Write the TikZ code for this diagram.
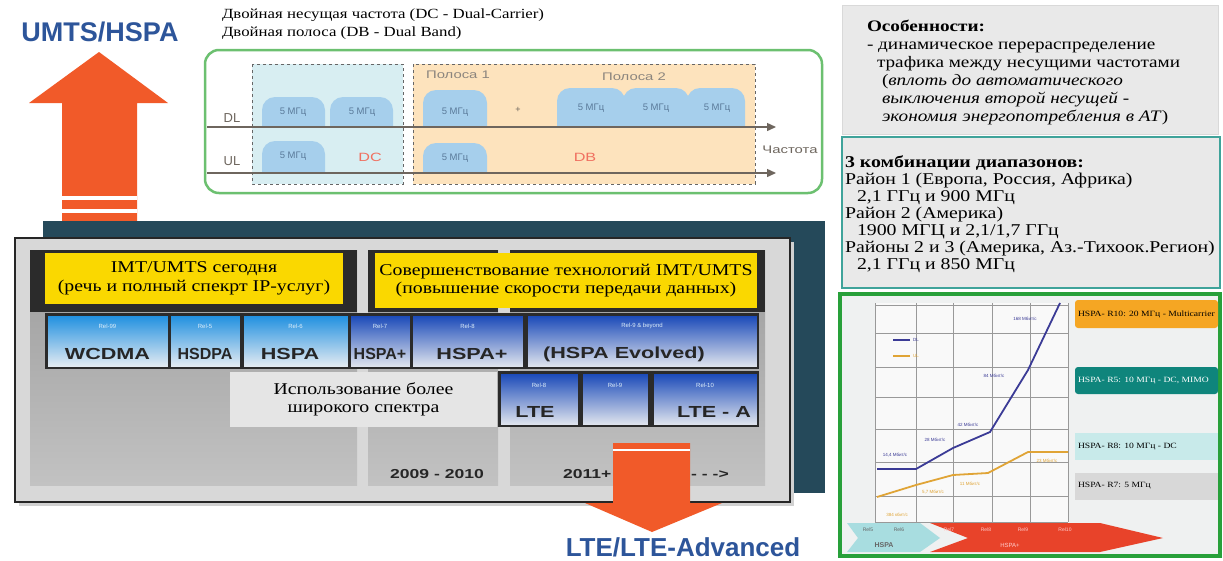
\documentclass[tikz,border=0pt]{standalone}
\usepackage{fontspec}
\setmainfont{Liberation Serif}[FakeStretch=1.2]
\setsansfont{Liberation Sans}
\newfontfamily\widesans{Liberation Sans}[FakeStretch=1.35]
\usetikzlibrary{arrows.meta}

\newcommand\fsz[2]{\fontsize{#1pt}{#2pt}\selectfont}

\definecolor{titleblue}{HTML}{2D559A}
\definecolor{arroworange}{HTML}{F15A29}
\definecolor{backteal}{HTML}{25495A}
\definecolor{panelgray}{HTML}{D8D8D8}
\definecolor{colgrayA}{HTML}{9C9C9C}
\definecolor{colgrayB}{HTML}{C2C2C2}
\definecolor{darkband}{HTML}{2B2B2B}
\definecolor{ybox}{HTML}{FAD800}
\definecolor{lblueA}{HTML}{1E8FE0}
\definecolor{lblueM}{HTML}{A9CDEB}
\definecolor{lblueB}{HTML}{E6ECF2}
\definecolor{dblueA}{HTML}{1848B8}
\definecolor{dblueM}{HTML}{A3B7E0}
\definecolor{dblueB}{HTML}{E2E6EE}
\definecolor{greenframe}{HTML}{6CC070}
\definecolor{dcfill}{HTML}{D8EEF2}
\definecolor{dbfill}{HTML}{FDE3BD}
\definecolor{bumpblue}{HTML}{A6CFEC}
\definecolor{bumptext}{HTML}{5A7A9A}
\definecolor{axisgray}{HTML}{6E665E}
\definecolor{redtext}{HTML}{F07060}
\definecolor{infogray}{HTML}{E9E9E9}
\definecolor{tealframe}{HTML}{3FA39A}
\definecolor{darkgreen}{HTML}{28A03A}
\definecolor{chartbg}{HTML}{EFF1F1}
\definecolor{dlline}{HTML}{3B3B96}
\definecolor{ulline}{HTML}{E0A436}
\definecolor{hspacyan}{HTML}{A8DDE0}
\definecolor{hspared}{HTML}{E8432A}
\definecolor{tagorange}{HTML}{F5A623}
\definecolor{tagteal}{HTML}{0F857C}
\definecolor{tagcyan}{HTML}{C8EAEA}
\definecolor{taggray}{HTML}{D8D8D8}

\begin{document}
\begin{tikzpicture}[x=1pt,y=-1pt,
  plain/.style={inner sep=0pt, outer sep=0pt},
  headline/.style={plain, font=\sffamily\bfseries\fsz{27}{30}, text=titleblue},
  yellowbox/.style={plain, fill=ybox, align=center, font=\fsz{16.5}{18.5}},
  cellA/.style={plain, draw=darkband, line width=0.8pt, top color=lblueA, middle color=lblueM, bottom color=lblueB},
  cellB/.style={plain, draw=darkband, line width=0.8pt, top color=dblueA, middle color=dblueM, bottom color=dblueB},
  rellabel/.style={plain, font=\sffamily\fsz{6}{7}, text=white!85!lblueA},
  cellname/.style={plain, font=\widesans\bfseries\fsz{16}{18}, text=black!85},
  narrowname/.style={plain, font=\sffamily\bfseries\fsz{16}{18}, text=black!85},
  yearlabel/.style={plain, font=\widesans\bfseries\fsz{13}{15}, text=black!85},
  bump/.style={fill=bumpblue},
  bumplabel/.style={plain, font=\sffamily\fsz{9.5}{11}, text=bumptext},
  axislabel/.style={plain, font=\sffamily\fsz{13}{15}, text=axisgray},
  bandlabel/.style={plain, font=\widesans\fsz{11}{13}, text=axisgray!80},
  modelabel/.style={plain, font=\widesans\fsz{12}{14}, text=redtext},
  axisline/.style={draw=axisgray, line width=1.4pt, -{Triangle[length=9pt,width=8pt]}},
  infotext/.style={plain, align=left, anchor=north west},
  tag/.style={plain, anchor=west, font=\fsz{8}{10}},
  datalabel/.style={plain, font=\sffamily\fsz{4.5}{5}},
  bandtext/.style={plain, font=\sffamily\fsz{5}{6}}
]
\useasboundingbox (0,0) rectangle (1223,560);
\fill[white] (0,0) rectangle (1223,560);

% ---------- upward arrow with caption ----------
\node[headline] (umts) at (100,32) {UMTS/HSPA};
\fill[arroworange] (62,222) -- (62,103) -- (29,103) -- (99,52) -- (168,103)
  -- (137,103) -- (137,222) -- cycle;
\fill[white] (62,196) rectangle (137,200);
\fill[white] (62,209) rectangle (137,213);

% ---------- dark backdrop and roadmap panel ----------
\fill[backteal] (43,221) rectangle (825,493);
\fill[black!18] (19,242) rectangle (794,506);
\draw[line width=2pt, draw=black!85, fill=panelgray] (15,238) rectangle (790,502);

\shade[top color=colgrayA, bottom color=colgrayB] (30,250) rectangle (357,485);
\shade[top color=colgrayA, bottom color=colgrayB] (368,250) rectangle (498,485);
\shade[top color=colgrayA, bottom color=colgrayB] (510,250) rectangle (765,485);
\fill[darkband] (30,250) rectangle (357,312);
\fill[darkband] (368,250) rectangle (498,312);
\fill[darkband] (510,250) rectangle (765,312);

\node[yellowbox, minimum width=298pt, minimum height=51pt] (today) at (194,278.5)
  {IMT/UMTS сегодня\\(речь и полный спекрт IP-услуг)};
\node[yellowbox, minimum width=382pt, minimum height=55pt] (future) at (566,280.5)
  {Совершенствование технологий IMT/UMTS\\(повышение скорости передачи данных)};

% release row
\fill[darkband] (45,313) rectangle (759,369);
\node[cellA, minimum width=121pt, minimum height=52pt] (c99) at (107.5,341) {};
\node[cellA, minimum width=70pt,  minimum height=52pt] (c5)  at (205,341) {};
\node[cellA, minimum width=105pt, minimum height=52pt] (c6)  at (295.5,341) {};
\node[cellB, minimum width=60pt,  minimum height=52pt] (c7)  at (380,341) {};
\node[cellB, minimum width=111pt, minimum height=52pt] (c8)  at (467.5,341) {};
\node[cellB, minimum width=230pt, minimum height=52pt] (c9)  at (642,341) {};
\node[rellabel] (r99) at (107.5,326) {Rel-99};
\node[rellabel] (r5)  at (205,326) {Rel-5};
\node[rellabel] (r6)  at (295.5,326) {Rel-6};
\node[rellabel] (r7)  at (380,326) {Rel-7};
\node[rellabel] (r8)  at (467.5,326) {Rel-8};
\node[rellabel] (r9)  at (642,326) {Rel-9 \& beyond};
\node[cellname] (n99) at (107.5,354) {WCDMA};
\node[narrowname] (n5)  at (205,354) {HSDPA};
\node[cellname] (n6)  at (290,354) {HSPA};
\node[narrowname] (n7) at (380,354) {HSPA+};
\node[cellname] (n8)  at (472,354) {HSPA+};
\node[cellname] (n9)  at (624,354) {(HSPA Evolved)};

% spectrum note
\node[plain, fill=black!10, minimum width=267pt, minimum height=55pt, align=center,
  font=\fsz{16.5}{18.5}] (wide) at (363.5,399.5) {Использование более\\широкого спектра};

% LTE row
\fill[darkband] (498,371) rectangle (759,427);
\node[cellB, minimum width=78pt,  minimum height=52pt] (l8)  at (539,399) {};
\node[cellB, minimum width=66pt,  minimum height=52pt] (l9)  at (615,399) {};
\node[cellB, minimum width=104pt, minimum height=52pt] (l10) at (705,399) {};
\node[rellabel] (rl8)  at (539,385) {Rel-8};
\node[rellabel] (rl9)  at (615,385) {Rel-9};
\node[rellabel] (rl10) at (705,385) {Rel-10};
\node[cellname] (lte)  at (535,412) {LTE};
\node[cellname] (ltea) at (714,412) {LTE - A};

% years
\node[yearlabel] (y1) at (437,474) {2009 - 2010};
\node[yearlabel, anchor=west] (y2) at (563,474) {2011+ - - - - - - - - - ->};

% ---------- downward arrow with caption ----------
\fill[arroworange] (613,443) -- (690,443) -- (690,503) -- (722,503) -- (652,532)
  -- (585,503) -- (613,503) -- cycle;
\fill[white] (613,449) rectangle (690,451);
\node[headline, font=\sffamily\bfseries\fsz{26}{29}] (lteadv) at (683,547) {LTE/LTE-Advanced};

% ---------- carrier diagram ----------
\node[plain, anchor=west, font=\fsz{14}{16}] (dcline) at (222,15)
  {Двойная несущая частота (DC - Dual-Carrier)};
\node[plain, anchor=west, font=\fsz{14}{16}] (dbline) at (222,33)
  {Двойная полоса (DB - Dual Band)};
\draw[greenframe, line width=2.5pt, fill=white, rounded corners=14pt] (205,50) rectangle (822,193);
\draw[fill=dcfill, draw=black!60, dashed, line width=0.9pt] (252,64) rectangle (403,184);
\draw[fill=dbfill, draw=black!60, dashed, line width=0.9pt] (413,64) rectangle (755,184);

% carrier bumps, downlink
\foreach \xa/\xb/\yt in {262/325/97, 330/393/97, 423/487/90, 557/625/88, 623/689/88, 687/745/88}
  \fill[bump] (\xa,127) [rounded corners=13pt] -- (\xa,\yt) -- (\xb,\yt) [sharp corners] -- (\xb,127) -- cycle;
% carrier bumps, uplink
\foreach \xa/\xb/\yt in {262/325/141, 423/487/143}
  \fill[bump] (\xa,173) [rounded corners=13pt] -- (\xa,\yt) -- (\xb,\yt) [sharp corners] -- (\xb,173) -- cycle;

\coordinate (dlstart) at (207,127);
\coordinate (dlend) at (776,127);
\coordinate (ulstart) at (207,173);
\coordinate (ulend) at (776,173);
\draw[axisline] (dlstart) -- (dlend);
\draw[axisline] (ulstart) -- (ulend);

\node[bumplabel] (b1) at (293,112) {5 МГц};
\node[bumplabel] (b2) at (362,112) {5 МГц};
\node[bumplabel] (b3) at (455,112) {5 МГц};
\node[bumplabel] (b4) at (591,108) {5 МГц};
\node[bumplabel] (b5) at (656,108) {5 МГц};
\node[bumplabel] (b6) at (717,108) {5 МГц};
\node[bumplabel] (b7) at (293,156) {5 МГц};
\node[bumplabel] (b8) at (455,158) {5 МГц};
\node[plain, font=\sffamily\fsz{9}{10}, text=axisgray] (plus) at (518,110) {+};
\node[modelabel] (dc) at (370,157) {DC};
\node[modelabel] (db) at (585,157) {DB};
\node[axislabel] (dl) at (232,118) {DL};
\node[axislabel] (ul) at (232,161) {UL};
\node[bandlabel] (band1) at (458,75) {Полоса 1};
\node[bandlabel] (band2) at (634,77) {Полоса 2};
\node[plain, font=\widesans\fsz{11}{13}, text=axisgray] (freq) at (790,150) {Частота};

% ---------- features ----------
\draw[fill=infogray, draw=black!15] (842,5) rectangle (1218,134);
\node[infotext, font=\fsz{16}{18}] (feat) at (867,20)
  {\textbf{Особенности:}\\
   - динамическое перераспределение\\
   \hspace*{10pt}трафика между несущими частотами\\
   \hspace*{15pt}(\textit{вплоть до автоматического}\\
   \hspace*{15pt}\textit{выключения второй несущей -}\\
   \hspace*{15pt}\textit{экономия энергопотребления в АТ})};

\draw[fill=infogray, draw=tealframe, line width=2pt] (842,137) rectangle (1220,288);
\node[infotext, font=\fsz{16.5}{17}] (bands) at (845,156)
  {\textbf{3 комбинации диапазонов:}\\
   Район 1 (Европа, Россия, Африка)\\
   \hspace*{12pt}2,1 ГГц и 900 МГц\\
   Район 2 (Америка)\\
   \hspace*{12pt}1900 МГЦ и 2,1/1,7 ГГц\\
   Районы 2 и 3 (Америка, Аз.-Тихоок.Регион)\\
   \hspace*{12pt}2,1 ГГц и 850 МГц};

% ---------- HSPA evolution chart ----------
\draw[fill=chartbg, draw=darkgreen, line width=4pt] (840,294) rectangle (1220,556);
\fill[white!60!chartbg] (875,303) rectangle (1068,522);
\foreach \gx in {875,916,953,992,1030,1068}
  \draw[black!40, line width=0.9pt] (\gx,303) -- (\gx,522);
\foreach \gy in {305,333,367,397,429,462,496,522}
  \draw[black!40, line width=0.9pt] (875,\gy) -- (1068,\gy);

\draw[dlline, line width=1.8pt] (877,469) -- (916,469) -- (953,448) -- (990,432) -- (1028,370) -- (1060,303);
\draw[ulline, line width=1.8pt] (877,497) -- (916,485) -- (953,475) -- (988,473) -- (1028,452) -- (1068,452);
\draw[dlline, line width=2pt] (893,340) -- (910,340);
\draw[ulline, line width=2pt] (893,356) -- (910,356);
\node[datalabel, anchor=west, text=dlline] (lgdl) at (913,340) {DL};
\node[datalabel, anchor=west, text=ulline] (lgul) at (913,356) {UL};

\node[datalabel, text=dlline] (d1) at (895,455) {14,4 Мбит/с};
\node[datalabel, text=dlline] (d2) at (935,440) {28 Мбит/с};
\node[datalabel, text=dlline] (d3) at (968,425) {42 Мбит/с};
\node[datalabel, text=dlline] (d4) at (994,376) {84 Мбит/с};
\node[datalabel, text=dlline] (d5) at (1025,319) {168 Мбит/с};
\node[datalabel, text=ulline] (u0) at (897,515) {384 кбит/с};
\node[datalabel, text=ulline] (u1) at (933,492) {5,7 Мбит/с};
\node[datalabel, text=ulline] (u2) at (970,484) {11 Мбит/с};
\node[datalabel, text=ulline] (u3) at (1047,461) {23 Мбит/с};

% release band under the chart
\fill[hspared] (930,523) -- (1100,523) -- (1163,538) -- (1100,552) -- (930,552) -- (968,538) -- cycle;
\fill[hspacyan] (847,523) -- (920,523) -- (940,538) -- (920,552) -- (847,552) -- (858,538) -- cycle;
\node[bandtext, text=black!60] (rel5)  at (868,530) {Rel5};
\node[bandtext, text=black!60] (rel6)  at (899,530) {Rel6};
\node[plain, font=\sffamily\bfseries\fsz{7}{8}, text=black!60] (hspa) at (884,545) {HSPA};
\node[bandtext, text=red!20] (rel7)  at (949,530) {Rel7};
\node[bandtext, text=red!20] (rel8)  at (986,530) {Rel8};
\node[bandtext, text=red!20] (rel9)  at (1023,530) {Rel9};
\node[bandtext, text=red!20] (rel10) at (1065,530) {Rel10};
\node[plain, font=\sffamily\fsz{6}{7}, text=red!20] (hspap) at (1010,545) {HSPA+};

% release tags
\fill[tagorange, rounded corners=3pt] (1075,300) rectangle (1218,328);
\fill[tagteal, rounded corners=3pt] (1075,367) rectangle (1218,394);
\fill[tagcyan] (1075,433) rectangle (1218,460);
\fill[taggray] (1075,473) rectangle (1218,500);
\node[tag] (t10) at (1078,314) {HSPA- R10: 20 МГц - Multicarrier};
\node[tag, text=white] (t5) at (1078,381) {HSPA- R5: 10 МГц - DC, MIMO};
\node[tag] (t8) at (1078,447) {HSPA- R8: 10 МГц - DC};
\node[tag] (t7) at (1078,486) {HSPA- R7: 5 МГц};
\end{tikzpicture}
\end{document}
